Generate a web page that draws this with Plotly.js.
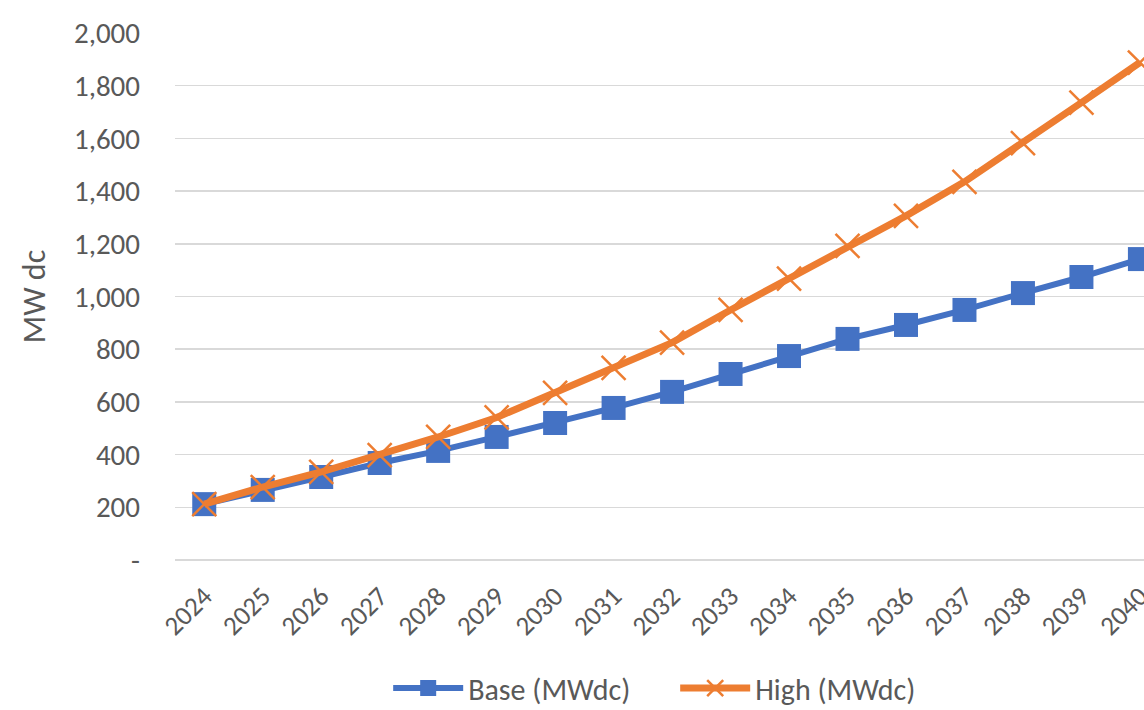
<!DOCTYPE html>
<html>
<head>
<meta charset="utf-8">
<script src="https://cdn.plot.ly/plotly-3.0.1.min.js"></script>
<style>
  html, body { margin: 0; padding: 0; background: #ffffff; }
  #chart { width: 1144px; height: 710px; }
</style>
</head>
<body>
<div id="chart"></div>
<script>
// Installed solar capacity outlook, MW dc
const years = ["2024", "2025", "2026", "2027", "2028", "2029", "2030", "2031", "2032",
               "2033", "2034", "2035", "2036", "2037", "2038", "2039", "2040"];
const baseMWdc = [212, 266, 315, 368, 414, 467, 520, 577, 638, 706, 774, 839, 892, 949, 1013, 1074, 1142];
const highMWdc = [212, 277, 334, 398, 467, 541, 634, 729, 825, 949, 1068, 1192, 1306, 1435, 1582, 1736, 1888];

const yTickVals = [0, 200, 400, 600, 800, 1000, 1200, 1400, 1600, 1800, 2000];
const yTickText = ["-", "200", "400", "600", "800", "1,000", "1,200", "1,400", "1,600", "1,800", "2,000"];

const textColor = "#595959";
const gridColor = "#D9D9D9";
const fontFamily = "Carlito, Lato, 'Open Sans', sans-serif";

const traces = [
  {
    x: years,
    y: baseMWdc,
    name: "Base (MWdc)",
    type: "scatter",
    mode: "lines+markers",
    line: { color: "#4472C4", width: 6 },
    marker: { symbol: "square", size: 24, color: "#4472C4" },
    hoverinfo: "x+y+name"
  },
  {
    x: years,
    y: highMWdc,
    name: "High (MWdc)",
    type: "scatter",
    mode: "lines+markers",
    line: { color: "#ED7D31", width: 7 },
    marker: { symbol: "x-thin", size: 24, color: "#ED7D31",
              line: { color: "#ED7D31", width: 2.5 } },
    hoverinfo: "x+y+name"
  }
];

const layout = {
  width: 1144,
  height: 710,
  margin: { l: 175, r: 0, t: 33, b: 150, autoexpand: false },
  paper_bgcolor: "#ffffff",
  plot_bgcolor: "#ffffff",
  font: { family: fontFamily, color: textColor, size: 29 },
  showlegend: true,
  legend: {
    orientation: "h",
    x: 0.22, xanchor: "left",
    y: -0.243, yanchor: "middle",
    font: { size: 30, color: textColor },
    itemwidth: 70,
    entrywidth: 202,
    traceorder: "normal"
  },
  xaxis: {
    type: "category",
    range: [-0.5, 16.07],
    automargin: false,
    showgrid: false,
    zeroline: false,
    showline: false,
    ticks: "",
    tickangle: -45,
    tickfont: { size: 27, color: textColor },
    ticklabelstandoff: 14,
    fixedrange: true
  },
  yaxis: {
    range: [0, 2000],
    automargin: false,
    tickvals: yTickVals,
    ticktext: yTickText,
    showgrid: true,
    gridcolor: gridColor,
    gridwidth: 1.5,
    zeroline: true,
    zerolinecolor: gridColor,
    zerolinewidth: 1.5,
    showline: false,
    ticks: "",
    ticklabelstandoff: 34,
    tickfont: { size: 29, color: textColor },
    title: { text: "MW dc", font: { size: 32, color: textColor }, standoff: 18 },
    fixedrange: true
  }
};

Plotly.newPlot("chart", traces, layout, { displayModeBar: false, staticPlot: true });
</script>
</body>
</html>
